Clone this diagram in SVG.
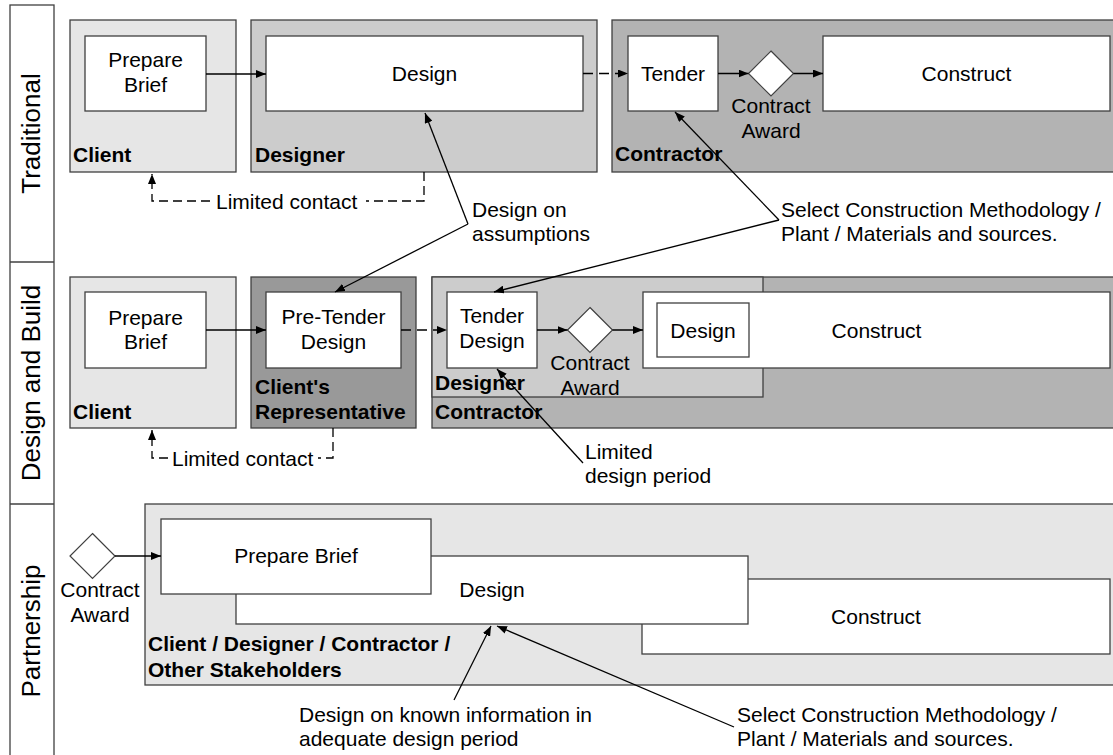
<svg xmlns="http://www.w3.org/2000/svg" width="1113" height="755" viewBox="0 0 1113 755">
  <style>
    .txt { font-family: "Liberation Sans", Arial, Helvetica, sans-serif; font-size: 21px; fill: #000; }
    .mid { text-anchor: middle; }
    .bold { font-weight: bold; }
    .lane-label { font-family: "Liberation Sans", Arial, Helvetica, sans-serif; font-size: 26px; fill: #000; text-anchor: middle; }
    .frame { fill: none; stroke: #404040; stroke-width: 1.3; }
    .pool { stroke: #404040; stroke-width: 1.3; }
    .c1 { fill: #e6e6e6; }
    .c2 { fill: #cccccc; }
    .c3 { fill: #b3b3b3; }
    .c4 { fill: #999999; }
    .task { fill: #ffffff; stroke: #404040; stroke-width: 1.3; }
    .gate { fill: #ffffff; stroke: #404040; stroke-width: 1.2; }
    .flow { fill: none; stroke: #000; stroke-width: 1.5; marker-end: url(#arrow); }
    .dash { stroke-dasharray: 10 6; }
    .contact { fill: none; stroke: #000; stroke-width: 1.3; stroke-dasharray: 9 5; }
    .note { fill: none; stroke: #000; stroke-width: 1.3; marker-end: url(#arrow); }
  </style>
  <defs>
    <marker id="arrow" viewBox="0 0 10 8" refX="10" refY="4" markerWidth="10" markerHeight="8" markerUnits="userSpaceOnUse" orient="auto">
      <path d="M0,0 L10,4 L0,8 z" fill="#000"/>
    </marker>
  </defs>

  <rect width="1113" height="755" fill="#ffffff"/>

  <!-- lane headers -->
  <g id="lanes">
    <rect class="frame" x="10" y="5" width="44" height="760"/>
    <line class="frame" x1="10" y1="262" x2="54" y2="262"/>
    <line class="frame" x1="10" y1="504" x2="54" y2="504"/>
    <text class="lane-label" x="40" y="133.5" transform="rotate(-90 40 133.5)">Traditional</text>
    <text class="lane-label" x="40" y="383" transform="rotate(-90 40 383)">Design and Build</text>
    <text class="lane-label" x="40" y="631" transform="rotate(-90 40 631)">Partnership</text>
  </g>

  <!-- Traditional -->
  <g id="trad-client">
    <rect class="pool c1" x="70" y="20" width="166" height="152"/>
    <text class="txt bold" x="73" y="162">Client</text>
  </g>
  <g id="trad-designer">
    <rect class="pool c2" x="251" y="20" width="346" height="152"/>
    <text class="txt bold" x="255" y="162">Designer</text>
  </g>
  <g id="trad-contractor">
    <rect class="pool c3" x="612" y="20" width="510" height="152"/>
    <text class="txt bold" x="615" y="161">Contractor</text>
  </g>
  <g id="trad-brief">
    <rect class="task" x="85" y="36" width="121" height="75"/>
    <text class="txt mid" x="145.5" y="67">Prepare</text>
    <text class="txt mid" x="145.5" y="92">Brief</text>
  </g>
  <g id="trad-design">
    <rect class="task" x="266" y="36" width="317" height="75"/>
    <text class="txt mid" x="424.5" y="81">Design</text>
  </g>
  <g id="trad-tender">
    <rect class="task" x="628" y="36" width="90" height="75"/>
    <text class="txt mid" x="673" y="81">Tender</text>
  </g>
  <g id="trad-award">
    <polygon class="gate" points="771,51 793.5,73.5 771,96 748.5,73.5"/>
    <text class="txt mid" x="771" y="113">Contract</text>
    <text class="txt mid" x="771" y="138">Award</text>
  </g>
  <g id="trad-construct">
    <rect class="task" x="823" y="36" width="287" height="75"/>
    <text class="txt mid" x="966.5" y="81">Construct</text>
  </g>

  <!-- Design and Build -->
  <g id="db-client">
    <rect class="pool c1" x="70" y="277" width="166" height="151"/>
    <text class="txt bold" x="73" y="419">Client</text>
  </g>
  <g id="db-rep">
    <rect class="pool c4" x="251" y="277" width="165" height="151"/>
    <text class="txt bold" x="255" y="394">Client's</text>
    <text class="txt bold" x="255" y="419">Representative</text>
  </g>
  <g id="db-contractor">
    <rect class="pool c3" x="432" y="277" width="690" height="151"/>
    <text class="txt bold" x="435" y="419">Contractor</text>
  </g>
  <g id="db-designer">
    <rect class="pool c2" x="432" y="277" width="331" height="120"/>
    <text class="txt bold" x="435" y="390">Designer</text>
  </g>
  <g id="db-brief">
    <rect class="task" x="85" y="292" width="121" height="76"/>
    <text class="txt mid" x="145.5" y="325">Prepare</text>
    <text class="txt mid" x="145.5" y="349">Brief</text>
  </g>
  <g id="db-pretender">
    <rect class="task" x="266" y="292" width="135" height="76"/>
    <text class="txt mid" x="333.5" y="324">Pre-Tender</text>
    <text class="txt mid" x="333.5" y="349">Design</text>
  </g>
  <g id="db-tender">
    <rect class="task" x="447" y="292" width="90" height="76"/>
    <text class="txt mid" x="492" y="323">Tender</text>
    <text class="txt mid" x="492" y="348">Design</text>
  </g>
  <g id="db-award">
    <polygon class="gate" points="590,307.5 612.5,330 590,352.5 567.5,330"/>
    <text class="txt mid" x="590" y="370">Contract</text>
    <text class="txt mid" x="590" y="395">Award</text>
  </g>
  <g id="db-construct">
    <rect class="task" x="643" y="292" width="467" height="76"/>
    <text class="txt mid" x="876.5" y="338">Construct</text>
  </g>
  <g id="db-design">
    <rect class="task" x="657" y="303" width="92" height="54"/>
    <text class="txt mid" x="703" y="338">Design</text>
  </g>

  <!-- Partnership -->
  <g id="p-pool">
    <rect class="pool c1" x="145" y="504" width="977" height="181"/>
    <text class="txt bold" x="148" y="651">Client / Designer / Contractor /</text>
    <text class="txt bold" x="148" y="677">Other Stakeholders</text>
  </g>
  <g id="p-award">
    <polygon class="gate" points="92.5,533.5 115,556 92.5,578.5 70,556"/>
    <text class="txt mid" x="100" y="597">Contract</text>
    <text class="txt mid" x="100" y="622">Award</text>
  </g>
  <g id="p-construct">
    <rect class="task" x="642" y="579" width="468" height="75"/>
    <text class="txt mid" x="876" y="624">Construct</text>
  </g>
  <g id="p-design">
    <rect class="task" x="236" y="556" width="512" height="68"/>
    <text class="txt mid" x="492" y="597">Design</text>
  </g>
  <g id="p-brief">
    <rect class="task" x="161" y="519" width="270" height="75"/>
    <text class="txt mid" x="296" y="563">Prepare Brief</text>
  </g>

  <!-- annotations -->
  <g id="notes">
    <text class="txt" x="216" y="209">Limited contact</text>
    <text class="txt" x="172" y="465.5">Limited contact</text>
    <text class="txt" x="472" y="217">Design on</text>
    <text class="txt" x="472" y="241">assumptions</text>
    <text class="txt" x="781" y="217">Select Construction Methodology /</text>
    <text class="txt" x="781" y="241">Plant / Materials and sources.</text>
    <text class="txt" x="585" y="459">Limited</text>
    <text class="txt" x="585" y="483">design period</text>
    <text class="txt" x="299" y="722">Design on known information in</text>
    <text class="txt" x="299" y="746">adequate design period</text>
    <text class="txt" x="737" y="722">Select Construction Methodology /</text>
    <text class="txt" x="737" y="746">Plant / Materials and sources.</text>
  </g>

  <!-- connectors -->
  <g id="connectors">
    <path class="flow" d="M206,74 H266"/>
    <path class="flow dash" d="M583,73.5 H628"/>
    <path class="flow" d="M718,73.5 H748.5"/>
    <path class="flow" d="M793.5,73.5 H823"/>

    <path class="flow" d="M206,330 H266"/>
    <path class="flow dash" d="M401,330 H447"/>
    <path class="flow" d="M537,330 H567.5"/>
    <path class="flow" d="M612.5,330 H643"/>

    <path class="flow" d="M115,556 H161"/>

    <path class="contact" d="M424,172 V201 H366 M210,201 H152 V174" marker-end="url(#arrow)"/>
    <path class="contact" d="M333,428 V458 H318 M168,458 H152 V430" marker-end="url(#arrow)"/>

    <path class="note" d="M468,224 L425,113"/>
    <path class="note" d="M468,224 L335,292"/>
    <path class="note" d="M779,220 L675,112"/>
    <path class="note" d="M779,220 L494,292"/>
    <path class="note" d="M583,463 L497,369"/>
    <path class="note" d="M454,700 L491,626"/>
    <path class="note" d="M734,727 L497,626"/>
  </g>
</svg>
